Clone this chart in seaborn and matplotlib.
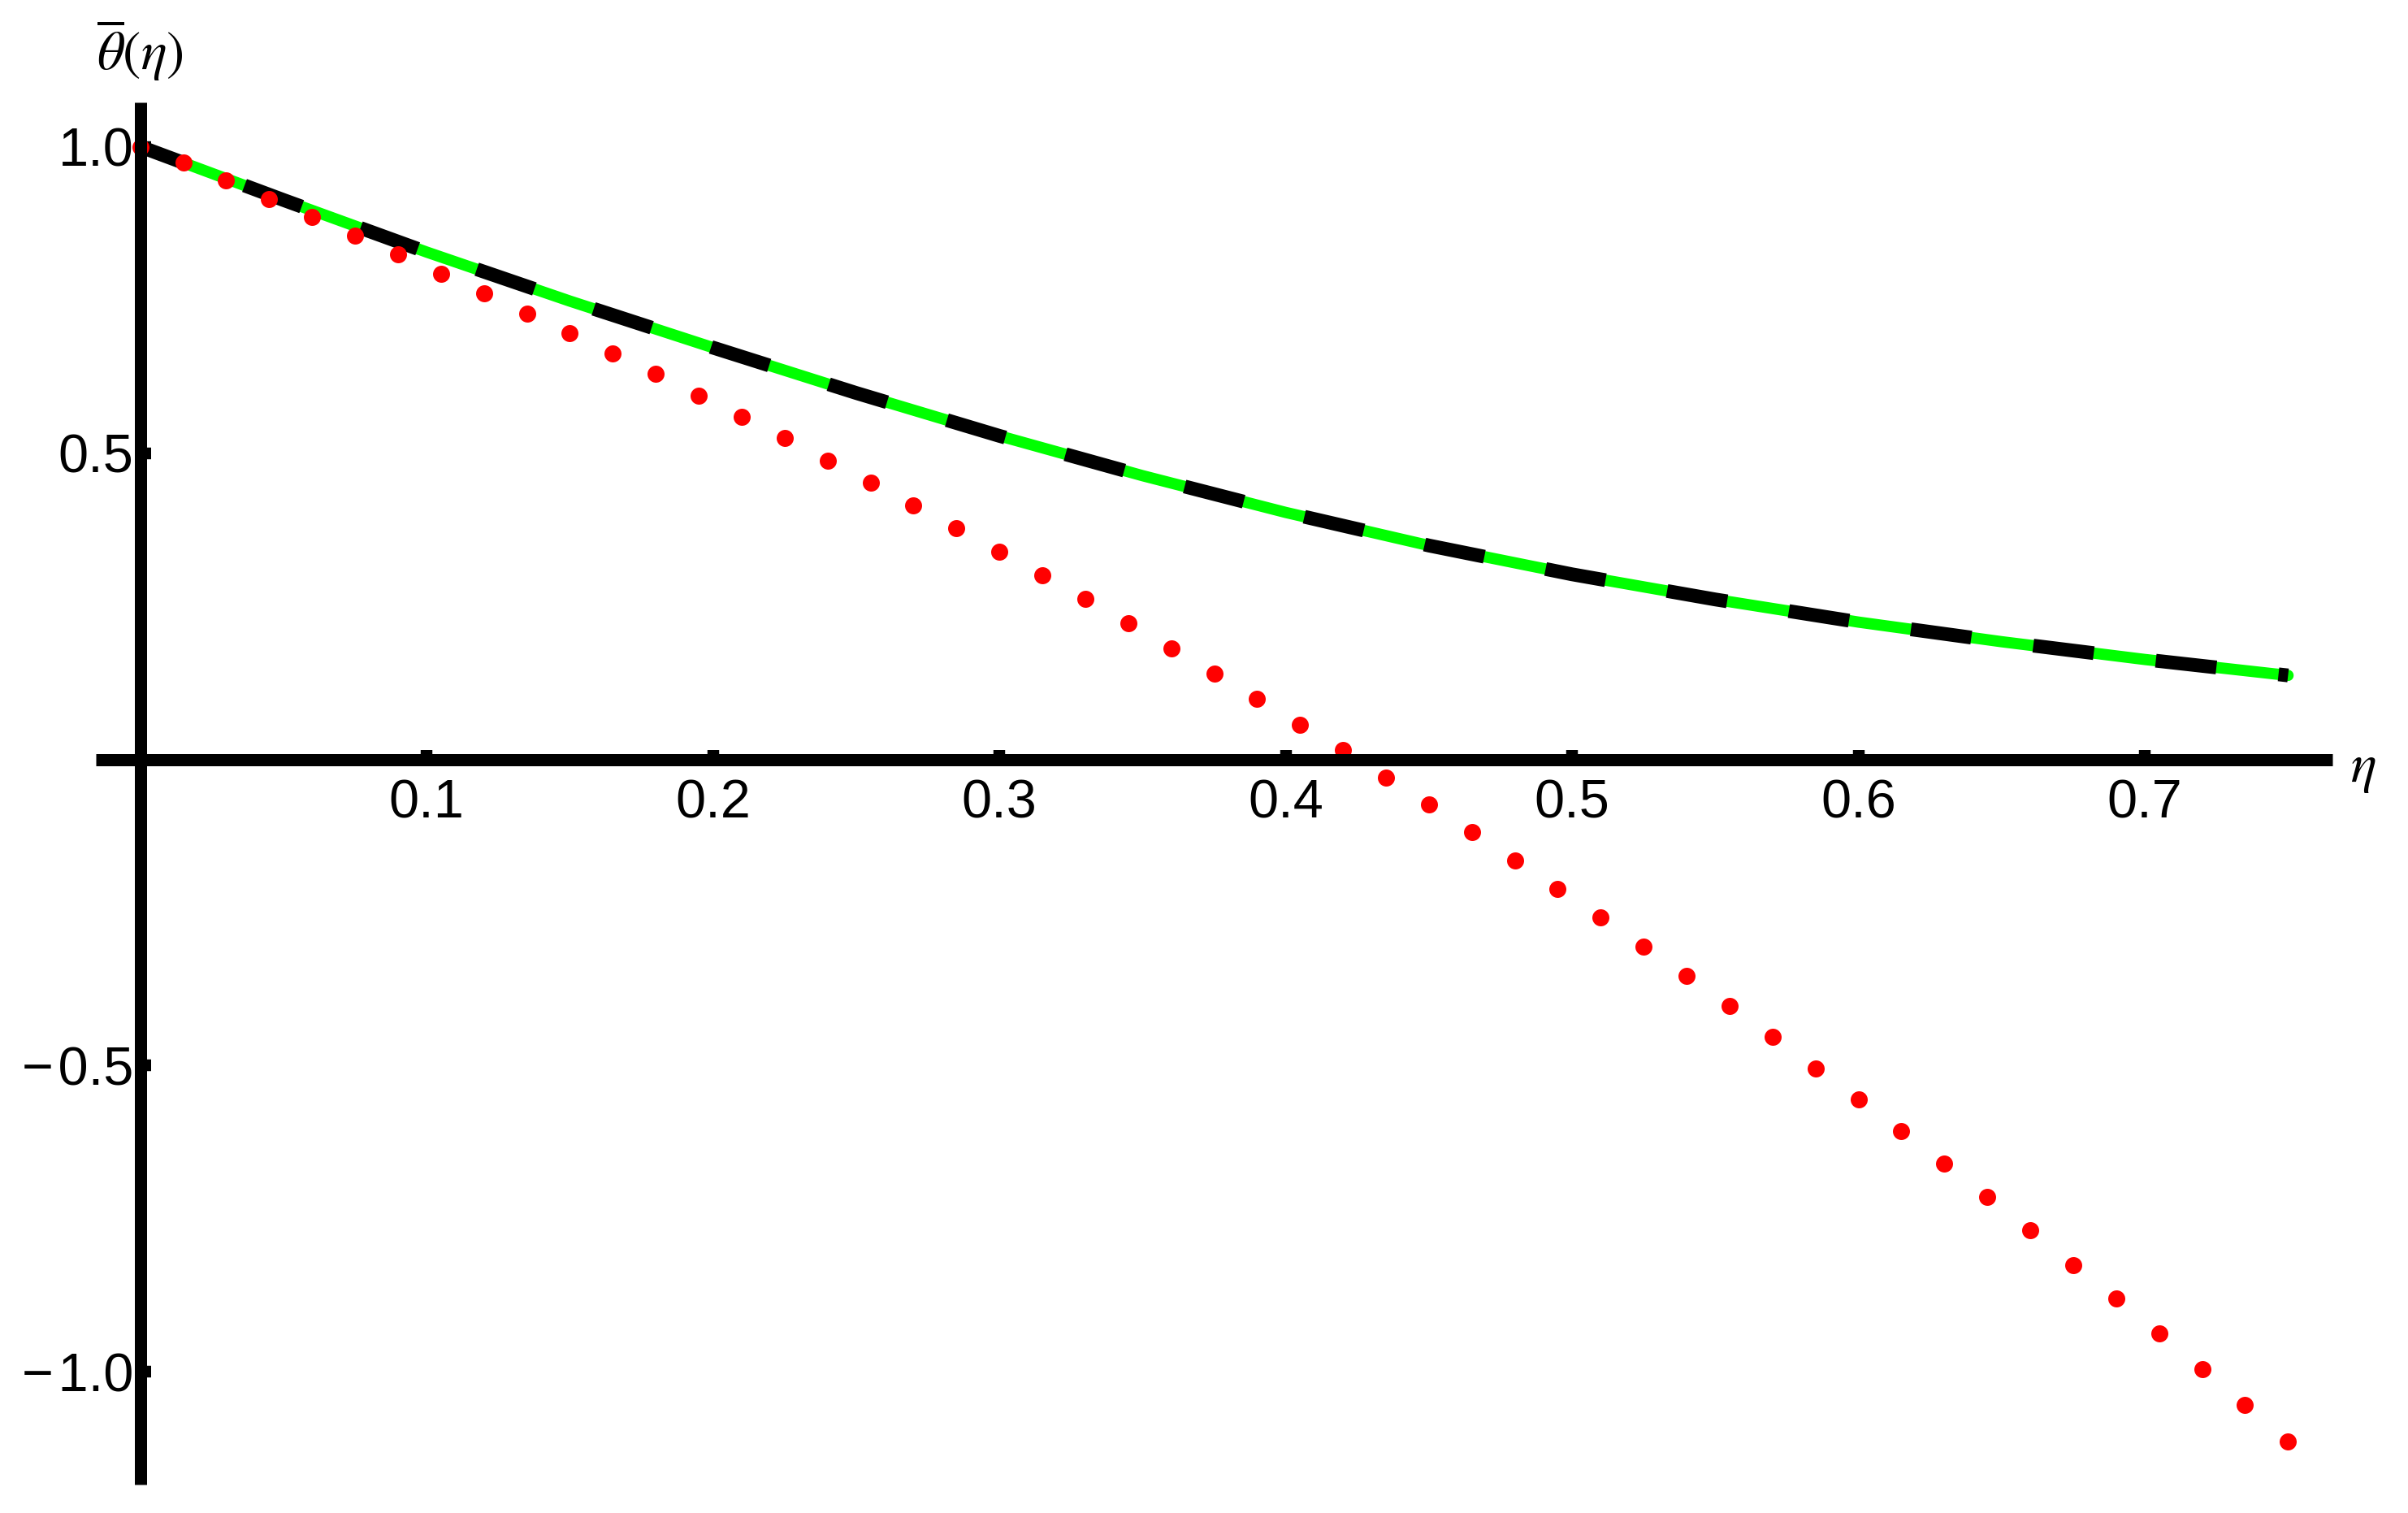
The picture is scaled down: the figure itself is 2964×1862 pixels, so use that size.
import matplotlib
matplotlib.use("Agg")
import matplotlib.pyplot as plt
import seaborn as sns

# Values
eta_curve = [0.0, 0.05, 0.10, 0.15, 0.20, 0.25, 0.30, 0.35,
             0.40, 0.45, 0.50, 0.55, 0.60, 0.65, 0.70, 0.75]
theta_exact = [1.0, 0.913, 0.828, 0.748, 0.672, 0.598, 0.528, 0.463,
               0.403, 0.349, 0.302, 0.261, 0.224, 0.192, 0.163, 0.137]
theta_approx = [1.0, 0.913, 0.828, 0.748, 0.672, 0.598, 0.528, 0.463,
                0.403, 0.349, 0.302, 0.261, 0.224, 0.192, 0.163, 0.137]

eta_dots = [0.0, 0.015, 0.03, 0.045, 0.06, 0.075, 0.09, 0.105, 0.12, 0.135,
            0.15, 0.165, 0.18, 0.195, 0.21, 0.225, 0.24, 0.255, 0.27, 0.285,
            0.30, 0.315, 0.33, 0.345, 0.36, 0.375, 0.39, 0.405, 0.42, 0.435,
            0.45, 0.465, 0.48, 0.495, 0.51, 0.525, 0.54, 0.555, 0.57, 0.585,
            0.60, 0.615, 0.63, 0.645, 0.66, 0.675, 0.69, 0.705, 0.72, 0.735,
            0.75]
theta_dots = [1.0, 0.974, 0.945, 0.915, 0.885, 0.855, 0.824, 0.792, 0.761, 0.728,
              0.696, 0.662, 0.629, 0.594, 0.559, 0.524, 0.488, 0.452, 0.415, 0.377,
              0.339, 0.300, 0.262, 0.222, 0.181, 0.140, 0.099, 0.056, 0.015, -0.030,
              -0.074, -0.119, -0.165, -0.211, -0.258, -0.306, -0.354, -0.403, -0.453, -0.504,
              -0.555, -0.607, -0.660, -0.714, -0.769, -0.825, -0.880, -0.937, -0.996, -1.054,
              -1.114]

x_ticks = [0.1, 0.2, 0.3, 0.4, 0.5, 0.6, 0.7]
x_tick_labels = ["0.1", "0.2", "0.3", "0.4", "0.5", "0.6", "0.7"]
y_ticks = [-1.0, -0.5, 0.5, 1.0]
y_tick_labels = ["\u2212\u200a1.0", "\u2212\u200a0.5", "0.5", "1.0"]

sns.set_style("white")
plt.rcParams["font.family"] = ["Liberation Sans", "DejaVu Sans"]
plt.rcParams["mathtext.fontset"] = "stix"
plt.rcParams["lines.scale_dashes"] = False

W, H = 2964, 1862
fig = plt.figure(figsize=(W / 200, H / 200), dpi=200)
ax = fig.add_axes([118 / W, 35 / H, 2753 / W, 1701 / H])

# green solid curve, black dashed curve on top, red dots
sns.lineplot(x=eta_curve, y=theta_exact, color="#00ff00", linewidth=5.0,
             ax=ax, zorder=3)
sns.lineplot(x=eta_curve, y=theta_approx, color="black", linewidth=6.1,
             ax=ax, zorder=4)
ax.lines[-1].set_linestyle((5.4, (27.0, 27.7)))
ax.lines[-1].set_dash_capstyle("butt")
sns.scatterplot(x=eta_dots, y=theta_dots, color="#ff0000", s=57, linewidth=0,
                marker="o", ax=ax, zorder=5)

ax.set_xlim(-0.0155, 0.7655)
ax.set_ylim(-1.1837, 1.0723)

for side in ["top", "right"]:
    ax.spines[side].set_visible(False)
for side in ["left", "bottom"]:
    sp = ax.spines[side]
    sp.set_position(("data", 0))
    sp.set_linewidth(5.4)
    sp.set_color("black")
    sp.set_zorder(6)
    sp.set_capstyle("butt")

ax.set_xticks(x_ticks, x_tick_labels)
ax.set_yticks(y_ticks, y_tick_labels)
ax.tick_params(direction="in", length=4.5, width=5.2, color="black",
               labelcolor="black", labelsize=24, bottom=True, left=True)
ax.tick_params(axis="x", pad=8.5)
ax.tick_params(axis="y", pad=3)

fig.text(172 / W, 1 - 102 / H, r"$\overline{\theta}(\eta)$", ha="center",
         va="bottom", fontsize=24, color="black")
fig.text(2893 / W, 1 - 947 / H, r"$\eta$", ha="left", va="center",
         fontsize=24, color="black")

fig.savefig("out.png", dpi=200)
